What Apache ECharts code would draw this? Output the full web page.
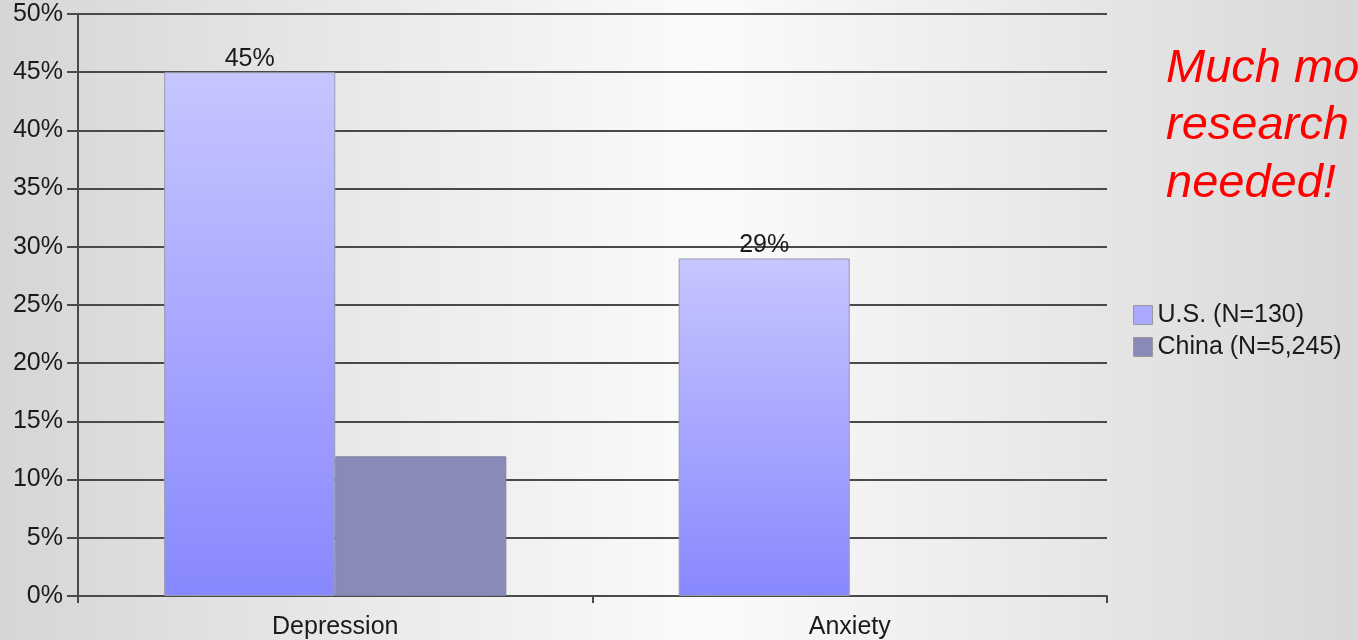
<!DOCTYPE html>
<html>
<head>
<meta charset="utf-8">
<script src="https://cdn.jsdelivr.net/npm/echarts@6/dist/echarts.min.js"></script>
<style>
html,body{margin:0;padding:0;}
#chart{width:1358px;height:640px;}
</style>
</head>
<body>
<div id="chart"></div>
<script>
const categories = ['Depression', 'Anxiety'];
const seriesNames = ['U.S. (N=130)', 'China (N=5,245)'];
const usValues = [45, 29];
const chinaValues = [12, null];
const yTicks = { min: 0, max: 50, interval: 5 };
const noteLines = ['Much more', 'research is', 'needed!'];

const chart = echarts.init(document.getElementById('chart'));
const font = 'Liberation Sans, Arial, sans-serif';
const textColor = '#1a1a1a';
const usGrad = new echarts.graphic.LinearGradient(0, 0, 0, 1, [
  { offset: 0, color: '#c6c6ff' },
  { offset: 1, color: '#8888ff' }
]);
const chinaColor = '#8a8ab9';

chart.setOption({
  backgroundColor: new echarts.graphic.LinearGradient(0, 0, 1, 0, [
    { offset: 0, color: '#d6d6d6' },
    { offset: 0.52, color: '#fbfbfb' },
    { offset: 1, color: '#d8d8d8' }
  ]),
  animation: false,
  grid: { left: 78, right: 251, top: 14, bottom: 42, containLabel: false },
  legend: {
    orient: 'vertical',
    left: 1133,
    top: 301,
    padding: 0,
    itemWidth: 19,
    itemHeight: 19,
    itemGap: 4,
    icon: 'rect',
    textStyle: { fontFamily: font, fontSize: 25, color: textColor, lineHeight: 28 },
    data: [
      { name: seriesNames[0], itemStyle: { color: '#aaaaff', borderColor: '#999', borderWidth: 1 } },
      { name: seriesNames[1], itemStyle: { color: chinaColor, borderColor: '#999', borderWidth: 1 } }
    ]
  },
  xAxis: {
    type: 'category',
    data: categories,
    axisLine: { show: true, lineStyle: { color: '#4a4a4a', width: 2 } },
    axisTick: { show: true, length: 7, alignWithLabel: false, lineStyle: { color: '#4a4a4a', width: 2 } },
    axisLabel: { fontFamily: font, fontSize: 25, color: textColor, margin: 19 }
  },
  yAxis: {
    type: 'value',
    min: yTicks.min,
    max: yTicks.max,
    interval: yTicks.interval,
    axisLine: { show: true, lineStyle: { color: '#4a4a4a', width: 2 } },
    axisTick: { show: true, length: 11, lineStyle: { color: '#4a4a4a', width: 2 } },
    axisLabel: { fontFamily: font, fontSize: 25, color: textColor, margin: 15, formatter: '{value}%' },
    splitLine: { show: true, lineStyle: { color: '#4a4a4a', width: 2 } }
  },
  series: [
    {
      name: seriesNames[0],
      type: 'bar',
      data: usValues,
      barGap: '0%',
      barCategoryGap: '33.5%',
      itemStyle: { color: usGrad, borderColor: '#9a9aaa', borderWidth: 1 },
      label: { show: true, position: 'top', distance: 1, formatter: '{c}%', fontFamily: font, fontSize: 25, color: textColor }
    },
    {
      name: seriesNames[1],
      type: 'bar',
      data: chinaValues,
      barGap: '0%',
      barCategoryGap: '33.5%',
      itemStyle: { color: chinaColor, borderColor: '#8080a0', borderWidth: 1 }
    }
  ],
  graphic: noteLines.map((t, i) => ({
    type: 'text',
    left: 1166,
    top: 45 + i * 57.5,
    style: { text: t, fill: '#ff0000', font: 'italic 47px ' + font }
  }))
});
</script>
</body>
</html>
